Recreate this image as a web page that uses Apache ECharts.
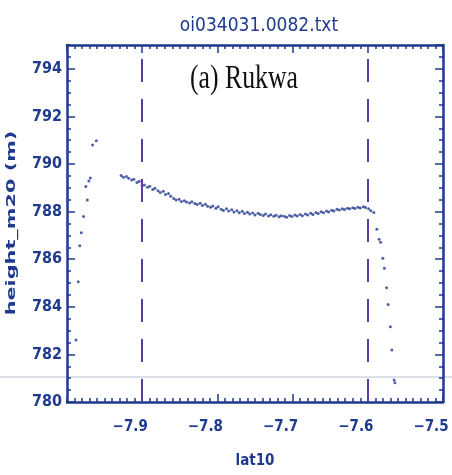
<!DOCTYPE html>
<html>
<head>
<meta charset="utf-8">
<script src="https://cdn.jsdelivr.net/npm/echarts@6/dist/echarts.min.js"></script>
<style>
  html, body { margin: 0; padding: 0; background: #fff; }
  #chart { width: 452px; height: 475px; }
</style>
</head>
<body>
<div id="chart"></div>
<script>
// track points: latitude (lat10) and height (height_m20)
var lat = [
  -7.988, -7.985, -7.983, -7.981, -7.978, -7.973, -7.975, -7.971, -7.969, -7.966, -7.961,
  -7.928, -7.925, -7.921, -7.918, -7.914, -7.911, -7.907, -7.904, -7.900, -7.897,
  -7.893, -7.890, -7.886, -7.883, -7.879, -7.876, -7.872, -7.869, -7.865, -7.862,
  -7.858, -7.855, -7.851, -7.848, -7.844, -7.841, -7.837, -7.834, -7.830, -7.827,
  -7.823, -7.820, -7.816, -7.813, -7.809, -7.806, -7.802, -7.799, -7.795, -7.792,
  -7.788, -7.785, -7.781, -7.778, -7.774, -7.771, -7.767, -7.764, -7.760, -7.757,
  -7.753, -7.750, -7.746, -7.743, -7.739, -7.736, -7.732, -7.729, -7.725, -7.722,
  -7.718, -7.715, -7.711, -7.708, -7.704, -7.701, -7.697, -7.694, -7.690, -7.687,
  -7.683, -7.680, -7.676, -7.673, -7.669, -7.666, -7.662, -7.659, -7.655, -7.652,
  -7.648, -7.645, -7.641, -7.638, -7.634, -7.631, -7.627, -7.624, -7.620, -7.617,
  -7.613, -7.610, -7.606, -7.603, -7.599, -7.596, -7.592,
  -7.588, -7.585, -7.583, -7.580, -7.578, -7.575, -7.573, -7.570, -7.568, -7.565, -7.564
];
var height = [
  782.61, 785.05, 786.57, 787.11, 787.79, 788.49, 789.05, 789.29, 789.41, 790.80, 790.98,
  789.52, 789.44, 789.47, 789.40, 789.33, 789.36, 789.22, 789.27, 789.10, 789.12,
  789.02, 789.06, 788.93, 788.98, 788.88, 788.80, 788.86, 788.72, 788.76, 788.64,
  788.55, 788.49, 788.52, 788.42, 788.46, 788.40, 788.36, 788.41, 788.34, 788.30,
  788.35, 788.26, 788.31, 788.22, 788.18, 788.24, 788.14, 788.20, 788.10, 788.05,
  788.12, 788.02, 788.08, 787.98, 788.04, 787.95, 788.01, 787.92, 787.97, 787.90,
  787.94, 787.86, 787.93, 787.88, 787.84, 787.90, 787.82, 787.87, 787.80, 787.85,
  787.78, 787.83, 787.80, 787.76, 787.84, 787.79, 787.86, 787.81, 787.88, 787.83,
  787.90, 787.86, 787.93, 787.88, 787.96, 787.92, 787.99, 787.95, 788.02, 787.98,
  788.06, 788.03, 788.10, 788.07, 788.12, 788.09, 788.14, 788.12, 788.16, 788.13,
  788.18, 788.15, 788.20, 788.17, 788.12, 788.04, 787.96,
  787.26, 786.84, 786.71, 786.04, 785.62, 784.80, 784.10, 783.16, 782.18, 780.92, 780.81
];
var markLats = [-7.9, -7.6];
var xMin = -8.0, xMax = -7.5, xStep = 0.1, xMinorStep = 0.01;
var yMin = 780, yMax = 795, yStep = 2, yMinorStep = 0.5;

var navy = '#1f3a8f';
var chart = echarts.init(document.getElementById('chart'));

var points = lat.map(function (v, i) { return [v, height[i]]; });

function fmtX(v) {
  return v.toFixed(1).replace('-', '\u2212');
}

// box axis with inward ticks
function boxAxis(pos, lo, hi, step, len, withLine) {
  return {
    type: 'value',
    position: pos,
    min: lo,
    max: hi,
    interval: step,
    axisLine: { show: withLine, onZero: false, lineStyle: { color: navy, width: 2.5 } },
    axisTick: { show: true, inside: true, length: len, lineStyle: { color: navy, width: 1.5 } },
    axisLabel: { show: false },
    splitLine: { show: false }
  };
}

var xBottom = boxAxis('bottom', xMin, xMax, xStep, 8, true);
xBottom.name = 'lat10';
xBottom.nameLocation = 'middle';
xBottom.nameGap = 52;
xBottom.nameTextStyle = { color: navy, fontSize: 15, fontFamily: 'DejaVu Sans Condensed', fontWeight: 'bold' };
xBottom.axisLabel = {
  show: true,
  showMinLabel: false,
  margin: 18,
  padding: [0, 24, 0, 0],
  color: navy,
  fontSize: 15,
  fontWeight: 'bold',
  fontFamily: 'DejaVu Sans Condensed',
  formatter: fmtX
};

var yLeft = boxAxis('left', yMin, yMax, yStep, 8, true);
yLeft.axisLabel = {
  show: true,
  showMaxLabel: false,
  margin: 5,
  color: navy,
  fontSize: 16,
  fontWeight: 'bold',
  fontFamily: 'DejaVu Sans Condensed'
};

var option = {
  animation: false,
  backgroundColor: '#fff',
  title: {
    text: 'oi034031.0082.txt',
    left: 254,
    textAlign: 'center',
    top: 12,
    textStyle: { color: navy, fontSize: 19, fontWeight: 'normal', fontFamily: 'DejaVu Sans Condensed' }
  },
  grid: { left: 67, right: 9, top: 45, bottom: 73 },
  xAxis: [
    xBottom,
    boxAxis('top', xMin, xMax, xStep, 8, true),
    boxAxis('bottom', xMin, xMax, xMinorStep, 4, false),
    boxAxis('top', xMin, xMax, xMinorStep, 4, false)
  ],
  yAxis: [
    yLeft,
    boxAxis('right', yMin, yMax, yStep, 8, true),
    boxAxis('left', yMin, yMax, yMinorStep, 4, false),
    boxAxis('right', yMin, yMax, yMinorStep, 4, false)
  ],
  series: [
    {
      type: 'scatter',
      xAxisIndex: 0,
      yAxisIndex: 0,
      data: points,
      symbol: 'circle',
      symbolSize: 3,
      itemStyle: { color: '#23398c' },
      markLine: {
        silent: true,
        symbol: ['none', 'none'],
        label: { show: false },
        lineStyle: { color: '#5e3c9e', width: 2, type: [23, 17] },
        data: markLats.map(function (v) { return { xAxis: v }; })
      }
    }
  ],
  graphic: [
    {
      type: 'text',
      x: 190,
      y: 63,
      scaleX: 0.78,
      style: {
        text: '(a) Rukwa',
        font: '33px "Liberation Serif"',
        fill: '#111',
        textVerticalAlign: 'top'
      }
    },
    {
      // y axis title, stretched like the original vector font
      type: 'text',
      x: 12,
      y: 223,
      rotation: Math.PI / 2,
      scaleX: 1.6,
      style: {
        text: 'height_m20 (m)',
        font: 'bold 13px "DejaVu Sans"',
        fill: navy,
        textAlign: 'center',
        textVerticalAlign: 'middle'
      }
    },
    {
      type: 'line',
      z: -1,
      shape: { x1: 0, y1: 377, x2: 452, y2: 377 },
      style: { stroke: '#b9c3d2', lineWidth: 1 }
    }
  ]
};

chart.setOption(option);
</script>
</body>
</html>
